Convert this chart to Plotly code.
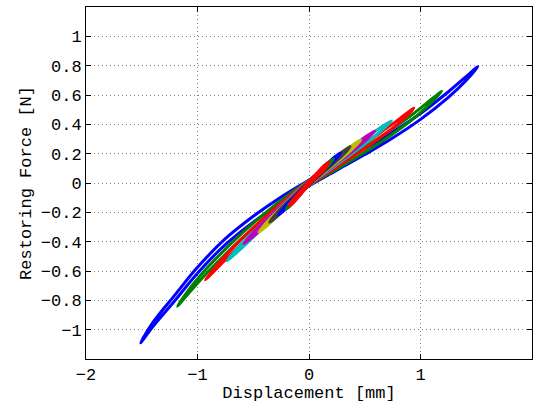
import plotly.graph_objects as go

# ---- data (displacement [mm], restoring force [N]) ----
# each loop: x positions (tip to tip), upper branch force, lower branch force
b1_x  = [-1.51, -1.4, -1.2, -1.0, -0.75, -0.5, -0.25, 0, 0.25, 0.5, 0.75, 1.0, 1.25, 1.4, 1.515]
b1_up = [-1.09, -0.951, -0.761, -0.575, -0.38, -0.227, -0.095, 0.02, 0.127, 0.234, 0.347, 0.474, 0.622, 0.72, 0.794]
b1_lo = [-1.09, -0.979, -0.799, -0.615, -0.42, -0.267, -0.135, -0.02, 0.087, 0.194, 0.307, 0.434, 0.584, 0.692, 0.794]

g1_x  = [-1.18, -1.05, -0.9, -0.6, -0.3, 0, 0.3, 0.6, 0.9, 1.05, 1.19]
g1_up = [-0.84, -0.70, -0.568, -0.342, -0.147, 0.018, 0.153, 0.293, 0.452, 0.541, 0.625]
g1_lo = [-0.84, -0.726, -0.602, -0.378, -0.183, -0.018, 0.117, 0.257, 0.418, 0.515, 0.625]

r1_x  = [-0.93, -0.8, -0.7, -0.47, -0.23, 0, 0.23, 0.47, 0.7, 0.82, 0.94]
r1_up = [-0.66, -0.538, -0.454, -0.284, -0.124, 0.016, 0.131, 0.251, 0.376, 0.442, 0.51]
r1_lo = [-0.66, -0.562, -0.486, -0.316, -0.156, -0.016, 0.099, 0.219, 0.344, 0.418, 0.51]

c_x  = [-0.735, -0.59, -0.295, 0, 0.295, 0.59, 0.74]
c_up = [-0.53, -0.402, -0.187, 0.016, 0.181, 0.351, 0.425]
c_lo = [-0.53, -0.434, -0.219, -0.016, 0.149, 0.319, 0.425]

m_x  = [-0.585, -0.47, -0.235, 0, 0.235, 0.47, 0.59]
m_up = [-0.415, -0.315, -0.147, 0.015, 0.155, 0.295, 0.355]
m_lo = [-0.415, -0.345, -0.177, -0.015, 0.125, 0.265, 0.355]

y_x  = [-0.45, -0.36, -0.18, 0, 0.185, 0.37, 0.465]
y_up = [-0.335, -0.252, -0.116, 0.014, 0.130, 0.247, 0.295]
y_lo = [-0.335, -0.280, -0.144, -0.014, 0.102, 0.219, 0.295]

k_x  = [-0.355, -0.285, -0.14, 0, 0.15, 0.295, 0.37]
k_up = [-0.268, -0.201, -0.092, 0.013, 0.113, 0.210, 0.248]
k_lo = [-0.268, -0.227, -0.118, -0.013, 0.087, 0.184, 0.248]

b2_x  = [-0.275, -0.22, -0.11, 0, 0.115, 0.23, 0.285]
b2_up = [-0.218, -0.163, -0.075, 0.011, 0.094, 0.177, 0.205]
b2_lo = [-0.218, -0.185, -0.097, -0.011, 0.072, 0.155, 0.205]

g2_x  = [-0.205, -0.165, -0.08, 0, 0.09, 0.175, 0.22]
g2_up = [-0.178, -0.133, -0.060, 0.010, 0.077, 0.140, 0.163]
g2_lo = [-0.178, -0.153, -0.080, -0.010, 0.057, 0.120, 0.163]

r2_x  = [-0.178, -0.14, -0.07, 0, 0.07, 0.145, 0.18]
r2_up = [-0.155, -0.11, -0.049, 0.012, 0.066, 0.125, 0.14]
r2_lo = [-0.155, -0.134, -0.073, -0.012, 0.042, 0.101, 0.14]

y_tickvals = [-1, -0.8, -0.6, -0.4, -0.2, 0, 0.2, 0.4, 0.6, 0.8, 1]
y_ticktext = ["\u22121", "\u22120.8", "\u22120.6", "\u22120.4", "\u22120.2", "0",
              "0.2", "0.4", "0.6", "0.8", "1"]
x_tickvals = [-2, -1, 0, 1, 2]
x_ticktext = ["\u22122", "\u22121", "0", "1", "2"]

loops = [
    (b1_x, b1_up, b1_lo, "#0000FF"),
    (g1_x, g1_up, g1_lo, "#008000"),
    (r1_x, r1_up, r1_lo, "#FF0000"),
    (c_x, c_up, c_lo, "#00BFBF"),
    (m_x, m_up, m_lo, "#BF00BF"),
    (y_x, y_up, y_lo, "#BFBF00"),
    (k_x, k_up, k_lo, "#404040"),
    (b2_x, b2_up, b2_lo, "#0000FF"),
    (g2_x, g2_up, g2_lo, "#008000"),
    (r2_x, r2_up, r2_lo, "#FF0000"),
]

fig = go.Figure()
for xs, up, lo, col in loops:
    i0 = xs.index(0)
    px = xs[i0:] + xs[::-1][1:] + xs[1:i0 + 1]
    py = up[i0:] + lo[::-1][1:] + up[1:i0 + 1]
    fig.add_trace(go.Scatter(x=px, y=py, mode="lines",
                             line=dict(color=col, width=3.0, shape="spline", smoothing=1.0),
                             showlegend=False, hoverinfo="skip"))

FONT = "Liberation Mono, Courier New, monospace"
axis_common = dict(
    showline=True, linecolor="black", linewidth=1, mirror="ticks",
    ticks="inside", ticklen=5, tickcolor="black", tickwidth=1,
    showgrid=True, gridcolor="#808080", gridwidth=1, griddash="1px,3px",
    zeroline=False, automargin=False,
    tickfont=dict(family=FONT, size=17, color="black"),
)

fig.update_layout(
    width=533, height=403,
    margin=dict(l=86, r=1, t=7, b=44),
    paper_bgcolor="white", plot_bgcolor="white",
    font=dict(family=FONT, color="black"),
    xaxis=dict(range=[-2, 2], tickvals=x_tickvals, ticktext=x_ticktext,
               title=dict(text="Displacement [mm]", font=dict(family=FONT, size=17), standoff=0),
               **axis_common),
    yaxis=dict(range=[-1.2, 1.2], tickvals=y_tickvals, ticktext=y_ticktext,
               title=dict(text="Restoring Force [N]", font=dict(family=FONT, size=17), standoff=4),
               **axis_common),
)

fig.write_html("out.html",
               config={"displayModeBar": False, "staticPlot": True},
               post_script="document.body.style.margin='0';document.body.style.overflow='hidden';")
